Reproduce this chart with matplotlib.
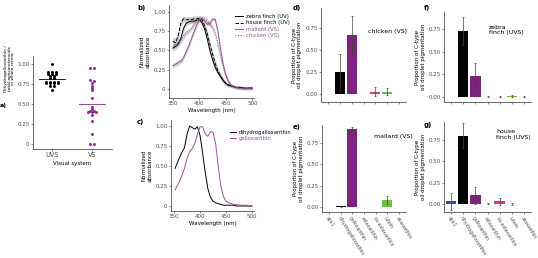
import numpy as np
import matplotlib.pyplot as plt

# ---- data ----
uvs_vals = [1.00, 0.90, 0.90, 0.90, 0.88, 0.88, 0.88, 0.85, 0.85, 0.82, 0.82,
            0.78, 0.78, 0.78, 0.78, 0.76, 0.76, 0.76, 0.76, 0.73, 0.73, 0.67]
vs_vals = [0.95, 0.95, 0.80, 0.79, 0.76, 0.72, 0.70, 0.68, 0.57, 0.47, 0.44,
           0.42, 0.41, 0.40, 0.40, 0.40, 0.36, 0.29, 0.13, 0.0, 0.0]
groups = ["UVS", "VS"]

wl_b = list(range(350, 501, 5))
zebra = [0.53, 0.55, 0.58, 0.65, 0.78, 0.85, 0.87, 0.88, 0.88, 0.89, 0.90, 0.86,
         0.78, 0.65, 0.50, 0.38, 0.28, 0.21, 0.16, 0.11, 0.07, 0.05, 0.04, 0.03,
         0.02, 0.02, 0.02, 0.01, 0.01, 0.01, 0.01]
zebra_sd = [0.04, 0.04, 0.04, 0.04, 0.04, 0.03, 0.03, 0.03, 0.03, 0.03, 0.03, 0.03,
            0.03, 0.03, 0.03, 0.03, 0.03, 0.03, 0.03, 0.03, 0.02, 0.02, 0.02, 0.02,
            0.02, 0.02, 0.02, 0.02, 0.02, 0.02, 0.02]
house = [0.62, 0.60, 0.68, 0.85, 0.91, 0.90, 0.90, 0.90, 0.91, 0.91, 0.92, 0.90,
         0.82, 0.72, 0.58, 0.45, 0.33, 0.24, 0.17, 0.11, 0.07, 0.05, 0.04, 0.03,
         0.02, 0.02, 0.01, 0.01, 0.01, 0.01, 0.01]
house_sd = [0.06, 0.06, 0.05, 0.05, 0.04, 0.04, 0.04, 0.04, 0.04, 0.04, 0.04, 0.04,
            0.04, 0.04, 0.04, 0.04, 0.04, 0.04, 0.03, 0.03, 0.03, 0.02, 0.02, 0.02,
            0.02, 0.02, 0.02, 0.02, 0.02, 0.02, 0.02]
mallard = [0.30, 0.32, 0.34, 0.36, 0.40, 0.48, 0.56, 0.65, 0.74, 0.83, 0.89, 0.92,
           0.88, 0.84, 0.85, 0.91, 0.90, 0.75, 0.52, 0.32, 0.18, 0.10, 0.05, 0.03,
           0.02, 0.01, 0.01, 0.01, 0.01, 0.01, 0.01]
mallard_sd = [0.03, 0.03, 0.03, 0.03, 0.03, 0.03, 0.03, 0.03, 0.03, 0.03, 0.02, 0.02,
              0.02, 0.02, 0.02, 0.02, 0.02, 0.02, 0.02, 0.02, 0.02, 0.02, 0.01, 0.01,
              0.01, 0.01, 0.01, 0.01, 0.01, 0.01, 0.01]
chicken = [0.55, 0.58, 0.60, 0.63, 0.68, 0.73, 0.75, 0.79, 0.84, 0.88, 0.91, 0.92,
           0.91, 0.88, 0.84, 0.80, 0.72, 0.58, 0.42, 0.28, 0.16, 0.09, 0.05, 0.03,
           0.02, 0.01, 0.01, 0.01, 0.01, 0.01, 0.01]
chicken_sd = [0.04, 0.04, 0.04, 0.04, 0.04, 0.03, 0.03, 0.03, 0.03, 0.03, 0.03, 0.03,
              0.03, 0.03, 0.03, 0.03, 0.03, 0.03, 0.03, 0.02, 0.02, 0.02, 0.02, 0.02,
              0.02, 0.02, 0.02, 0.02, 0.02, 0.02, 0.02]

wl_c = [352] + list(range(355, 501, 5))
dihydro = [0.47, 0.52, 0.60, 0.67, 0.73, 0.90, 1.00, 0.98, 0.96, 0.99, 0.88, 0.66,
           0.42, 0.22, 0.11, 0.06, 0.04, 0.03, 0.02, 0.01, 0.01, 0.01, 0.01, 0.01,
           0.0, 0.0, 0.0, 0.0, 0.0, 0.0, 0.0]
gallox = [0.20, 0.24, 0.30, 0.38, 0.47, 0.60, 0.68, 0.72, 0.78, 0.90, 0.99, 0.99,
          0.90, 0.87, 0.93, 0.92, 0.78, 0.50, 0.25, 0.12, 0.06, 0.04, 0.03, 0.02,
          0.02, 0.01, 0.01, 0.01, 0.01, 0.0, 0.0]

pigments = ["apo1", "dihydrogalloxanthin", "galloxanthin", "astaxanthin",
            "cis-astaxanthin", "lutein", "zeaxanthin"]
pig_colors = ["#2d4f9e", "#000000", "#7b237d", "#c8336e", "#e2308f", "#6cbf3f", "#eea33a"]

chicken_prop = [np.nan, 0.25, 0.67, np.nan, 0.025, 0.025, np.nan]
chicken_err = [0, 0.21, 0.22, 0, 0.05, 0.04, 0]
mallard_prop = [np.nan, 0.005, 0.91, np.nan, np.nan, 0.08, np.nan]
mallard_err = [0, 0.005, 0.03, 0, 0, 0.05, 0]
zebra_prop = [np.nan, 0.73, 0.23, 0.003, 0.005, 0.01, 0.004]
zebra_err = [0, 0.15, 0.15, 0.003, 0.005, 0.01, 0.005]
house_prop = [0.03, 0.80, 0.10, 0.005, 0.03, 0.003, np.nan]
house_err = [0.10, 0.15, 0.10, 0.01, 0.04, 0.01, 0]

PURPLE = "#8b2a8b"
LPURPLE = "#9b4f9b"
GREY = "#4d4d4d"
FS = 4

W, H = 538, 258
fig = plt.figure(figsize=(W / 100, H / 100), dpi=100)


def ax_px(l, t, r, b):
    return fig.add_axes([l / W, 1 - b / H, (r - l) / W, (b - t) / H])


def style(ax):
    for s in ["top", "right"]:
        ax.spines[s].set_visible(False)
    for s in ["left", "bottom"]:
        ax.spines[s].set_linewidth(0.5)
        ax.spines[s].set_color("#333333")
    ax.tick_params(length=1.5, width=0.4, labelsize=FS, labelcolor=GREY, pad=1,
                   color="#333333")


def label(x, y, s, fs=5):
    fig.text(x / W, 1 - y / H, s, fontsize=fs, fontweight="bold", va="center")


def yfmt(v):
    return "0" if v == 0 else f"{v:.2f}"


# ---- a) ----
ax = ax_px(33, 56, 112, 149)
style(ax)
for i, (vals, col) in enumerate([(uvs_vals, "black"), (vs_vals, PURPLE)]):
    vals = np.array(vals)
    xs = np.zeros(len(vals))
    used = np.zeros(len(vals), bool)
    for j in range(len(vals)):
        if used[j]:
            continue
        idx = [k for k in range(len(vals)) if not used[k] and abs(vals[k] - vals[j]) < 0.012]
        n = len(idx)
        for m, k in enumerate(idx):
            xs[k] = (m - (n - 1) / 2) * 0.1
            used[k] = True
    ax.scatter(i + xs, vals, s=4.5, color=col, linewidths=0)
    mean = vals.mean()
    ax.plot([i - 0.33, i + 0.33], [mean, mean], color=col, lw=0.6)
ax.set_xlim(-0.47, 1.5)
ax.set_ylim(-0.06, 1.1)
ax.set_xticks([0, 1])
ax.set_xticklabels(groups, fontsize=4.8)
ax.set_yticks([0, 0.25, 0.5, 0.75, 1.0])
ax.set_yticklabels([yfmt(v) for v in [0, 0.25, 0.5, 0.75, 1.0]])
ax.set_xlabel("Visual system", fontsize=FS, labelpad=2)
ax.set_ylabel("Dihydrogalloxanthin /\ntotal apocarotenoids\nin whole retina",
              fontsize=3.2, linespacing=0.9)
ax.yaxis.set_label_coords(-0.225, 0.86)
label(0, 105, "a)", 4.6)

# ---- b) ----
ax = ax_px(169, 5, 254, 98)
style(ax)
series = [(zebra, zebra_sd, "black", "-", "zebra finch (UV)"),
          (house, house_sd, "black", "--", "house finch (UV)"),
          (mallard, mallard_sd, LPURPLE, "-", "mallard (VS)"),
          (chicken, chicken_sd, LPURPLE, ":", "chicken (VS)")]
for y, sd, col, ls, name in series:
    y = np.array(y)
    sd = np.array(sd)
    ax.fill_between(wl_b, y - sd, y + sd, color="#9a9a9a", alpha=0.45, lw=0)
    ax.plot(wl_b, y, color=col, ls=ls, lw=0.7, label=name)
ax.set_xlim(343, 503)
ax.set_ylim(-0.117, 1.09)
ax.set_xticks([350, 400, 450, 500])
ax.set_yticks([0, 0.25, 0.5, 0.75, 1.0])
ax.set_yticklabels([yfmt(v) for v in [0, 0.25, 0.5, 0.75, 1.0]])
ax.set_xlabel("Wavelength (nm)", fontsize=FS, labelpad=1)
ax.set_ylabel("Normalized\nabsorbance", fontsize=FS, labelpad=2)
leg = ax.legend(loc="upper left", bbox_to_anchor=(0.74, 0.93), fontsize=3.8, frameon=False,
                handlelength=1.6, handletextpad=0.5, labelspacing=0.25, borderpad=0)
for t, s in zip(leg.get_texts(), series):
    t.set_color("black" if s[2] == "black" else LPURPLE)
label(137, 8, "b)")

# ---- c) ----
ax = ax_px(171, 120, 254, 211)
style(ax)
ax.plot(wl_c, dihydro, color="black", lw=0.7, label="dihydrogalloxanthin")
ax.plot(wl_c, gallox, color=LPURPLE, lw=0.7, label="galloxanthin")
ax.set_xlim(344, 504)
ax.set_ylim(-0.0625, 1.075)
ax.set_xticks([350, 400, 450, 500])
ax.set_yticks([0, 0.25, 0.5, 0.75, 1.0])
ax.set_yticklabels([yfmt(v) for v in [0, 0.25, 0.5, 0.75, 1.0]])
ax.set_xlabel("Wavelength (nm)", fontsize=FS, labelpad=1)
ax.set_ylabel("Normalized\nabsorbance", fontsize=FS, labelpad=2)
leg = ax.legend(loc="upper left", bbox_to_anchor=(0.68, 0.92), fontsize=3.8, frameon=False,
                handlelength=1.2, handletextpad=0.5, labelspacing=0.25, borderpad=0)
leg.get_texts()[1].set_color(LPURPLE)
label(137, 122, "c)")


# ---- d-g) ----
def bar_panel(box, vals, errs, name, tx, ty, ylim, show_labels):
    ax = ax_px(*box)
    style(ax)
    x = np.arange(len(pigments))
    ax.bar(x, vals, width=0.85, color=pig_colors)
    v = np.array(vals, float)
    e = np.array(errs, float)
    ok = ~np.isnan(v)
    ax.errorbar(x[ok], v[ok], yerr=e[ok], fmt="none", ecolor="#444444",
                elinewidth=0.5, capsize=0.8, capthick=0.5)
    ax.set_xlim(-0.6, 6.6)
    ax.set_ylim(*ylim)
    ax.set_xticks(x)
    ax.set_yticks([0, 0.25, 0.5, 0.75])
    ax.set_yticklabels(["0.00", "0.25", "0.50", "0.75"])
    if show_labels:
        ax.set_xticklabels(pigments, rotation=-58, ha="left", rotation_mode="anchor",
                           fontsize=3.3)
    else:
        ax.set_xticklabels([])
    ax.set_ylabel("Proportion of C-type\noil droplet pigmentation", fontsize=FS, labelpad=2)
    ax.text(tx, ty, name, transform=ax.transAxes, fontsize=4.5, va="top")
    return ax


bar_panel((321, 8, 406, 102), chicken_prop, chicken_err, "chicken (VS)", 0.55, 0.78,
          (-0.09, 0.977), False)
bar_panel((322, 125, 406, 212), mallard_prop, mallard_err, "mallard (VS)", 0.62, 0.9,
          (-0.06, 0.96), True)
bar_panel((444, 12, 531, 102), zebra_prop, zebra_err, "zebra\nfinch (UVS)", 0.52, 0.86,
          (-0.055, 0.94), False)
bar_panel((444, 122, 531, 212), house_prop, house_err, "house\nfinch (UVS)", 0.6, 0.92,
          (-0.094, 0.96), True)
label(293, 8, "d)")
label(293, 127, "e)")
label(424, 8, "f)")
label(424, 125, "g)")

fig.savefig("out.png", dpi=100)
